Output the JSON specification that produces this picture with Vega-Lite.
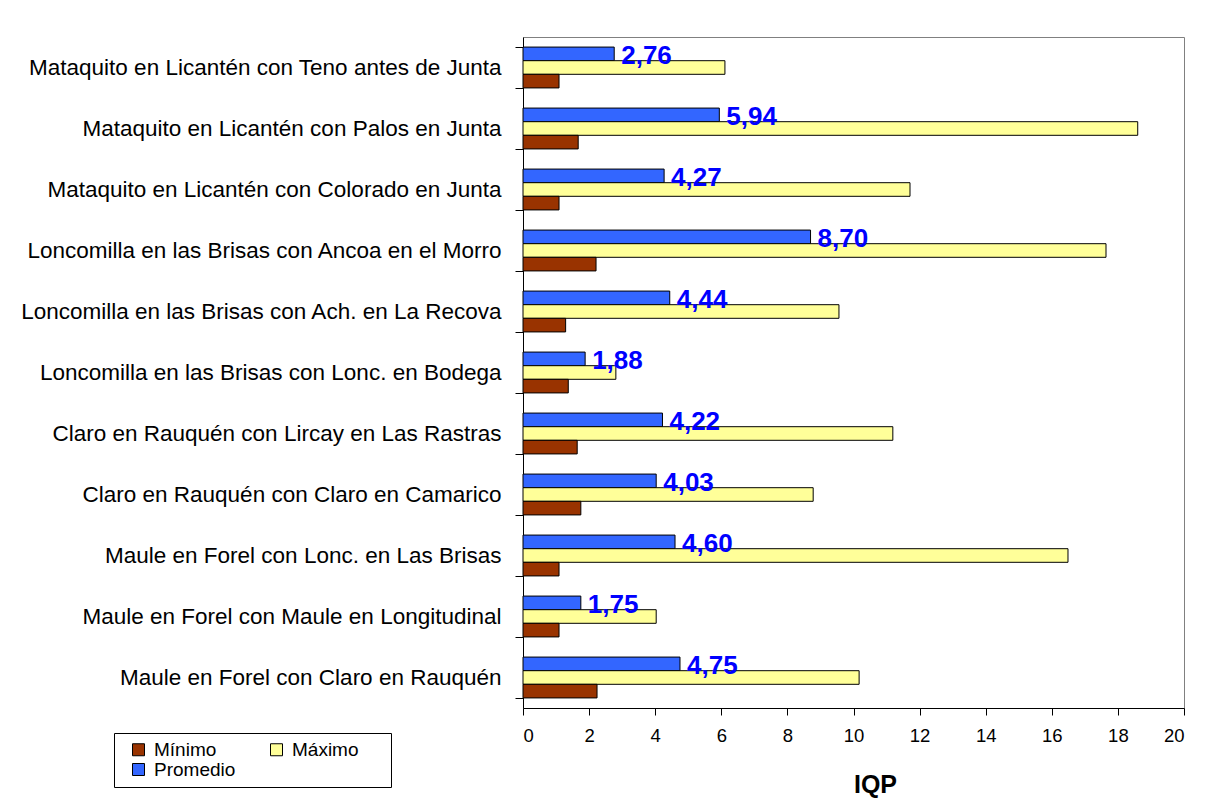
{
  "$schema": "https://vega.github.io/schema/vega-lite/v6.json",
  "autosize": {"type": "none"},
  "width": 661,
  "height": 671,
  "padding": {"left": 523, "top": 37, "right": 23, "bottom": 96},
  "background": "white",
  "config": {
    "font": "Liberation Sans",
    "view": {"stroke": "#808080", "strokeWidth": 1},
    "locale": {"number": {"decimal": ",", "thousands": ".", "grouping": [3], "currency": ["", ""]}}
  },
  "data": {"values": [
    {"estacion": "Mataquito en Licantén con Teno antes de Junta", "serie": "Promedio", "valor": 2.76},
    {"estacion": "Mataquito en Licantén con Teno antes de Junta", "serie": "Máximo", "valor": 6.11},
    {"estacion": "Mataquito en Licantén con Teno antes de Junta", "serie": "Mínimo", "valor": 1.09},
    {"estacion": "Mataquito en Licantén con Palos en Junta", "serie": "Promedio", "valor": 5.94},
    {"estacion": "Mataquito en Licantén con Palos en Junta", "serie": "Máximo", "valor": 18.6},
    {"estacion": "Mataquito en Licantén con Palos en Junta", "serie": "Mínimo", "valor": 1.67},
    {"estacion": "Mataquito en Licantén con Colorado en Junta", "serie": "Promedio", "valor": 4.27},
    {"estacion": "Mataquito en Licantén con Colorado en Junta", "serie": "Máximo", "valor": 11.71},
    {"estacion": "Mataquito en Licantén con Colorado en Junta", "serie": "Mínimo", "valor": 1.09},
    {"estacion": "Loncomilla en las Brisas con Ancoa en el Morro", "serie": "Promedio", "valor": 8.70},
    {"estacion": "Loncomilla en las Brisas con Ancoa en el Morro", "serie": "Máximo", "valor": 17.64},
    {"estacion": "Loncomilla en las Brisas con Ancoa en el Morro", "serie": "Mínimo", "valor": 2.21},
    {"estacion": "Loncomilla en las Brisas con Ach. en La Recova", "serie": "Promedio", "valor": 4.44},
    {"estacion": "Loncomilla en las Brisas con Ach. en La Recova", "serie": "Máximo", "valor": 9.56},
    {"estacion": "Loncomilla en las Brisas con Ach. en La Recova", "serie": "Mínimo", "valor": 1.29},
    {"estacion": "Loncomilla en las Brisas con Lonc. en Bodega", "serie": "Promedio", "valor": 1.88},
    {"estacion": "Loncomilla en las Brisas con Lonc. en Bodega", "serie": "Máximo", "valor": 2.81},
    {"estacion": "Loncomilla en las Brisas con Lonc. en Bodega", "serie": "Mínimo", "valor": 1.37},
    {"estacion": "Claro en Rauquén con Lircay en Las Rastras", "serie": "Promedio", "valor": 4.22},
    {"estacion": "Claro en Rauquén con Lircay en Las Rastras", "serie": "Máximo", "valor": 11.19},
    {"estacion": "Claro en Rauquén con Lircay en Las Rastras", "serie": "Mínimo", "valor": 1.64},
    {"estacion": "Claro en Rauquén con Claro en Camarico", "serie": "Promedio", "valor": 4.03},
    {"estacion": "Claro en Rauquén con Claro en Camarico", "serie": "Máximo", "valor": 8.78},
    {"estacion": "Claro en Rauquén con Claro en Camarico", "serie": "Mínimo", "valor": 1.75},
    {"estacion": "Maule en Forel con Lonc. en Las Brisas", "serie": "Promedio", "valor": 4.60},
    {"estacion": "Maule en Forel con Lonc. en Las Brisas", "serie": "Máximo", "valor": 16.49},
    {"estacion": "Maule en Forel con Lonc. en Las Brisas", "serie": "Mínimo", "valor": 1.09},
    {"estacion": "Maule en Forel con Maule en Longitudinal", "serie": "Promedio", "valor": 1.75},
    {"estacion": "Maule en Forel con Maule en Longitudinal", "serie": "Máximo", "valor": 4.03},
    {"estacion": "Maule en Forel con Maule en Longitudinal", "serie": "Mínimo", "valor": 1.09},
    {"estacion": "Maule en Forel con Claro en Rauquén", "serie": "Promedio", "valor": 4.75},
    {"estacion": "Maule en Forel con Claro en Rauquén", "serie": "Máximo", "valor": 10.17},
    {"estacion": "Maule en Forel con Claro en Rauquén", "serie": "Mínimo", "valor": 2.24}
  ]},
  "encoding": {
    "y": {
      "field": "estacion", "type": "nominal", "sort": null,
      "scale": {"paddingInner": 0.33, "paddingOuter": 0.165},
      "axis": {
        "title": null, "tickBand": "extent", "tickSize": 8, "tickColor": "black",
        "domainColor": "black", "labelPadding": 14, "labelFontSize": 22.5,
        "labelColor": "black", "labelLimit": 520, "grid": false
      }
    },
    "x": {
      "field": "valor", "type": "quantitative",
      "scale": {"domain": [0, 20], "nice": false},
      "axis": {
        "title": "IQP", "values": [0, 2, 4, 6, 8, 10, 12, 14, 16, 18, 20],
        "format": "d", "grid": false, "tickSize": 7, "tickColor": "black",
        "domainColor": "black", "labelPadding": 11, "labelFontSize": 18.5,
        "labelColor": "black", "titleFontSize": 25, "titleFontWeight": "bold",
        "titleColor": "black", "titleX": 352, "titleY": 84, "titleBaseline": "alphabetic"
      }
    },
    "yOffset": {
      "field": "serie", "type": "nominal",
      "sort": ["Promedio", "Máximo", "Mínimo"],
      "scale": {"paddingInner": 0, "paddingOuter": 0}
    }
  },
  "layer": [
    {
      "mark": {"type": "bar", "stroke": "black", "strokeWidth": 1},
      "encoding": {
        "color": {
          "field": "serie", "type": "nominal",
          "scale": {"domain": ["Mínimo", "Máximo", "Promedio"], "range": ["#993300", "#FFFF99", "#3366FF"]},
          "legend": {
            "orient": "none", "legendX": -409, "legendY": 696, "direction": "horizontal",
            "columns": 2, "columnPadding": 23, "rowPadding": 0,
            "symbolType": "square", "symbolSize": 144, "symbolStrokeColor": "black",
            "symbolStrokeWidth": 1, "symbolOpacity": 1,
            "labelFontSize": 19, "labelColor": "black", "labelOffset": 6,
            "strokeColor": "black", "fillColor": "white", "padding": 7,
            "symbolOffset": 8,
            "title": "\u00a0", "titleOrient": "right", "titlePadding": 25, "titleFontSize": 10
          }
        }
      }
    },
    {
      "transform": [{"filter": "datum.serie === 'Promedio'"}],
      "mark": {"type": "text", "align": "left", "baseline": "middle", "dx": 7, "dy": 2,
               "fontSize": 26, "fontWeight": "bold", "color": "#0000FF"},
      "encoding": {
        "text": {"field": "valor", "type": "quantitative", "format": ".2f"}
      }
    }
  ]
}
